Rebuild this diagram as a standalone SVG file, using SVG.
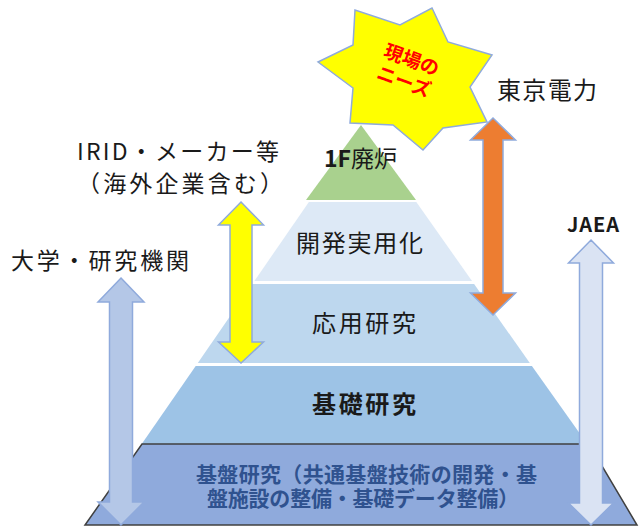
<svg xmlns="http://www.w3.org/2000/svg" width="639" height="527" viewBox="0 0 639 527">
<style>
text{font-family:"Noto Sans CJK JP","Noto Sans CJK SC",sans-serif;fill:#1a1a1a}
.lbl{font-size:23px}
.lay{font-size:24px}
.base{font-size:21px;font-weight:bold;fill:#2f528f}
.arr{stroke:#8faadc;stroke-width:1.5;stroke-linejoin:miter}
</style>
<rect width="639" height="527" fill="#ffffff"/>
<g id="layer-1f">
<polygon points="361,125 416,200 306,200" fill="#a9d18e"/>
</g>
<g id="layer-kaihatsu">
<polygon points="308.9,202 416.3,202 472,281 254.4,281" fill="#dde9f6"/>
</g>
<g id="layer-ouyou">
<polygon points="252.3,284 474.1,284 529.8,363 197.8,363" fill="#bdd7ee"/>
</g>
<g id="layer-kiso">
<polygon points="195.7,366 531.9,366 588,445 141,445" fill="#9dc3e6"/>
</g>
<g id="layer-kiban">
<polygon points="142,444 589,444 637,525 85,525" fill="#8faadc" stroke="#404040" stroke-width="1.5"/>
</g>
<g id="star">
<polygon points="318,62 353,45 355,10 400,25 432,8 448,42 492,55 470,87 487,122 443,128 423,150 393,125 350,123 353,88" fill="#ffff00" stroke="#8faadc" stroke-width="1.5"/>
<g transform="rotate(20 408 70)">
<text x="408" y="66" text-anchor="middle" style="font-size:19px;font-weight:bold;fill:#ff0000">現場の</text>
<text x="408" y="89" text-anchor="middle" style="font-size:19px;font-weight:bold;fill:#ff0000">ニーズ</text>
</g>
</g>
<g id="connectors">
<path class="arr" fill="#ffff00" d="M241,202 L263.5,225 L252,225 L252,342 L263.5,342 L241,363 L218.5,342 L230,342 L230,225 L218.5,225 Z"/>
<path class="arr" fill="#ed7d31" d="M493,118 L515.5,140 L503,140 L503,293 L515.5,293 L493,315 L470.5,293 L483,293 L483,140 L470.5,140 Z"/>
<path class="arr" fill="#b4c7e7" d="M121,278 L144,302 L132.5,302 L132.5,502 L144,502 L121,525 L98,502 L109.5,502 L109.5,302 L98,302 Z"/>
<path class="arr" fill="#dae3f3" d="M591,240 L613.5,263 L602.5,263 L602.5,503 L613.5,503 L591,525 L568.5,503 L579.5,503 L579.5,263 L568.5,263 Z"/>
</g>
<g id="label-tepco">
<text class="lbl" x="497" y="99" style="font-size:24px" textLength="100" lengthAdjust="spacing">東京電力</text>
</g>
<g id="label-irid">
<text class="lbl" x="77" y="160" textLength="202" lengthAdjust="spacing">IRID・メーカー等</text>
<text class="lbl" x="77" y="192" textLength="206" lengthAdjust="spacing">（海外企業含む）</text>
</g>
<g id="label-univ">
<text class="lbl" x="11" y="268.5" textLength="178" lengthAdjust="spacing">大学・研究機関</text>
</g>
<g id="label-jaea">
<text x="567" y="232" style="font-size:20px;font-weight:bold" textLength="52" lengthAdjust="spacing">JAEA</text>
</g>
<g id="text-layers">
<text x="324" y="167" style="font-size:23px"><tspan font-weight="bold">1F</tspan>廃炉</text>
<text class="lay" x="296" y="252" textLength="127" lengthAdjust="spacing">開発実用化</text>
<text class="lay" x="312" y="332" textLength="104" lengthAdjust="spacing">応用研究</text>
<text class="lay" x="312" y="413" style="font-weight:bold" textLength="104" lengthAdjust="spacing">基礎研究</text>
<text class="base" x="196" y="482" textLength="341" lengthAdjust="spacing">基盤研究（共通基盤技術の開発・基</text>
<text class="base" x="207" y="506" textLength="312" lengthAdjust="spacing">盤施設の整備・基礎データ整備）</text>
</g>
</svg>
